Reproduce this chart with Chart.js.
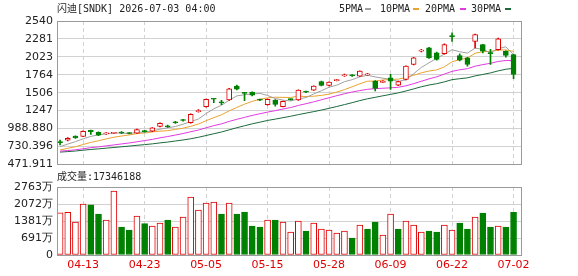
<!DOCTYPE html>
<html>
<head>
<meta charset="utf-8">
<script src="https://cdn.jsdelivr.net/npm/chart.js@4.4.1/dist/chart.umd.min.js"></script>
<style>
  html, body { margin: 0; padding: 0; background: #fff; }
  #wrap { position: relative; width: 578px; height: 276px; overflow: hidden; }
  canvas { position: absolute; left: 0; }
  #kline { top: 0; }
  #vol { top: 168px; }
</style>
</head>
<body>
<div id="wrap">
  <canvas id="kline" width="578" height="175"></canvas>
  <canvas id="vol" width="578" height="108"></canvas>
</div>
<script>
// trading days shown
const dates = ['04-08','04-09','04-10','04-13','04-14','04-15','04-16','04-17','04-20','04-21',
  '04-22','04-23','04-24','04-27','04-28','04-29','04-30','05-01','05-04','05-05',
  '05-06','05-07','05-08','05-11','05-12','05-13','05-14','05-15','05-18','05-19',
  '05-20','05-21','05-22','05-26','05-27','05-28','05-29','06-01','06-02','06-03',
  '06-04','06-05','06-08','06-09','06-10','06-11','06-12','06-15','06-16','06-17',
  '06-18','06-22','06-23','06-24','06-25','06-26','06-29','06-30','07-01','07-02'];

const open = [792,822,879,874,962,936,912,920,930,926,
  922,952,950,1018,1022,1080,1112,1075,1232,1303,
  1418,1368,1400,1600,1508,1515,1405,1334,1400,1305,
  1415,1400,1522,1543,1668,1611,1680,1748,1758,1745,
  1762,1673,1655,1722,1615,1697,1912,2105,2152,2080,
  2070,2325,2040,2009,2247,2200,2085,2128,2103,2056];
const high = [822,858,885,955,966,940,930,935,945,930,
  980,962,1002,1070,1040,1092,1122,1200,1262,1415,
  1420,1395,1570,1615,1512,1520,1415,1415,1408,1385,
  1418,1548,1528,1606,1672,1662,1700,1775,1768,1822,
  1785,1680,1680,1769,1672,1895,2015,2130,2160,2090,
  2210,2368,2065,2015,2350,2205,2130,2292,2110,2062];
const low = [752,812,848,870,903,888,905,914,915,912,
  918,935,945,1012,1005,1062,1095,1068,1225,1298,
  1362,1335,1395,1545,1390,1460,1390,1325,1310,1300,
  1398,1395,1505,1538,1605,1605,1675,1740,1740,1740,
  1755,1530,1650,1553,1608,1690,1905,2095,2000,1975,
  2060,2247,1965,1890,2150,2080,1913,2120,2020,1707];
const close = [785,848,854,950,944,893,922,928,925,918,
  975,944,998,1065,1015,1072,1105,1195,1245,1410,
  1412,1358,1563,1555,1495,1470,1398,1410,1338,1381,
  1405,1543,1512,1601,1611,1658,1690,1760,1750,1816,
  1772,1568,1668,1672,1665,1888,2009,2115,2009,1984,
  2200,2315,1975,1912,2343,2103,2070,2282,2042,1769];

// volume in 万 shares, and whether the day closed above the previous close
const volume = [1718,1737,1340,2070,2042,1665,1421,2600,1137,1015,
  1584,1272,1178,1300,1421,1137,1543,2355,1827,2111,
  2152,1665,2111,1665,1746,1178,1137,1421,1421,1340,
  934,1380,975,1300,1056,1015,893,975,690,1218,
  1056,1340,812,1665,1056,1380,1218,934,975,934,
  1218,1015,1300,1056,1543,1706,1137,1178,1137,1734.6];
const volRise = [1,1,1,1,0,0,1,1,0,0,
  1,0,1,1,0,1,1,1,1,1,
  1,0,1,0,0,0,0,1,0,1,
  1,1,0,1,1,1,1,1,0,1,
  0,0,1,1,0,1,1,1,0,0,
  1,1,0,0,1,0,0,1,0,0];

const ma5Head = [728,765,800,840];
const ma10Head = [680,704,727,759,789,813,839,864,881];
const ma20Head = [663,672,682,697,713,725,739,753,767,781,798,815,833,855,874,895,917,943,967];
const ma30Head = [649,657,665,677,687,696,706,716,726,736,747,757,768,782,794,809,824,842,863,888,
  914,939,970,1001,1029,1057,1081,1106,1125];

const priceTicks = ['471.911','730.396','988.880','1247','1506','1764','2023','2281','2540'];
const priceMin = 471.911, priceMax = 2539.787;
const volTicks = ['0','691万','1381万','2072万','2763万'];
const volMax = 2763;
const dateTicks = ['04-13','04-23','05-05','05-15','05-28','06-09','06-22','07-02'];

const titleText = '闪迪[SNDK] 2026-07-03 04:00';
const volHeader = '成交量:17346188';
const maLabels = ['5PMA','10PMA','20PMA','30PMA'];
const maColors = ['#a0a0a0','#eaa330','#e23ae2','#1b6a3c'];

const RED = '#e00000';
const GREEN = '#008000';
const TICK_FONT = {family: 'DejaVu Sans', size: 11};
const HEAD_FONT = '10px "DejaVu Sans Mono", "Noto Sans CJK SC"';

function movingAvg(n, head) {
  return close.map((c, i) => {
    if (i < n - 1) return head[i];
    let s = 0;
    for (let k = i - n + 1; k <= i; k++) s += close[k];
    return s / n;
  });
}
const pts = arr => arr.map((v, i) => ({x: i, y: v}));
const isUp = close.map((c, i) => c >= open[i]);

function xAxis(showLabels) {
  return {
    type: 'linear', min: -0.4, max: 60.1, offset: false,
    afterBuildTicks: s => { s.ticks = dateTicks.map(d => ({value: dates.indexOf(d)})); },
    afterFit: s => { s.height = showLabels ? 21 : 0; },
    grid: {color: '#d2d2d2', drawTicks: false, offset: false},
    border: {display: false, dash: [4, 3]},
    ticks: {
      display: showLabels, autoSkip: false, maxRotation: 0, padding: 4,
      color: RED, font: TICK_FONT, callback: v => dates[v]
    }
  };
}

function yAxis(min, max, labels) {
  return {
    min: min, max: max,
    afterBuildTicks: s => {
      const step = (max - min) / (labels.length - 1);
      s.ticks = labels.map((l, k) => ({value: min + k * step}));
    },
    afterFit: s => { s.width = 57; },
    grid: {color: '#d2d2d2', drawTicks: false},
    border: {display: false},
    ticks: {padding: 4, color: '#222', font: TICK_FONT, callback: (v, idx) => labels[idx]}
  };
}

const framePlugin = {
  id: 'frame',
  afterDraw(chart) {
    const a = chart.chartArea, ctx = chart.ctx;
    ctx.save();
    ctx.strokeStyle = '#9a9a9a';
    ctx.lineWidth = 1;
    ctx.strokeRect(Math.round(a.left) + 0.5, Math.round(a.top) + 0.5,
      Math.round(a.right - a.left) - 1, Math.round(a.bottom - a.top));
    ctx.restore();
  }
};

const headerPlugin = {
  id: 'header',
  afterDraw(chart) {
    const ctx = chart.ctx;
    ctx.save();
    ctx.font = HEAD_FONT;
    ctx.textBaseline = 'middle';
    ctx.fillStyle = '#222';
    ctx.fillText(titleText, 57, 9);
    // legend: text then a short coloured dash
    const textX = [339, 380, 425, 471];
    const dashX = [365, 413, 460, 505];
    maLabels.forEach((l, k) => {
      ctx.fillStyle = '#222';
      ctx.fillText(l, textX[k], 9);
      ctx.fillStyle = maColors[k];
      ctx.fillRect(dashX[k], 8, 6, 2);
    });
    ctx.restore();
  }
};

const volHeaderPlugin = {
  id: 'volHeader',
  afterDraw(chart) {
    const ctx = chart.ctx;
    ctx.save();
    ctx.font = HEAD_FONT;
    ctx.textBaseline = 'middle';
    ctx.fillStyle = '#222';
    ctx.fillText(volHeader, 57, 9);
    ctx.restore();
  }
};

const common = {
  responsive: false,
  animation: false,
  events: [],
  plugins: {legend: {display: false}, tooltip: {enabled: false}}
};

// K-line chart
const maSets = [
  movingAvg(5, ma5Head), movingAvg(10, ma10Head),
  movingAvg(20, ma20Head), movingAvg(30, ma30Head)
].map((d, k) => ({
  type: 'line', data: pts(d), borderColor: maColors[k], borderWidth: 1,
  pointRadius: 0, tension: 0, order: 3
}));

new Chart(document.getElementById('kline'), {
  type: 'bar',
  data: {
    datasets: [
      ...maSets,
      {
        type: 'bar', data: dates.map((d, i) => ({x: i, y: [low[i], high[i]]})),
        backgroundColor: isUp.map(u => u ? RED : GREEN),
        barThickness: 1, grouped: false, order: 2
      },
      {
        type: 'bar', data: dates.map((d, i) => ({x: i, y: [open[i], close[i]]})),
        backgroundColor: isUp.map(u => u ? '#fff' : GREEN),
        borderColor: isUp.map(u => u ? RED : GREEN),
        borderWidth: 1, borderSkipped: false, minBarLength: 1,
        barThickness: 5, grouped: false, order: 1
      }
    ]
  },
  options: {
    ...common,
    layout: {padding: {top: 21, bottom: 10, left: 0, right: 56}},
    scales: {x: xAxis(false), y: yAxis(priceMin, priceMax, priceTicks)}
  },
  plugins: [framePlugin, headerPlugin]
});

// volume chart
new Chart(document.getElementById('vol'), {
  type: 'bar',
  data: {
    datasets: [{
      data: pts(volume),
      backgroundColor: volRise.map(r => r ? '#fff' : GREEN),
      borderColor: volRise.map(r => r ? RED : GREEN),
      borderWidth: 1, borderSkipped: false,
      barThickness: 6, grouped: false
    }]
  },
  options: {
    ...common,
    layout: {padding: {top: 19, bottom: 0, left: 0, right: 56}},
    scales: {x: xAxis(true), y: yAxis(0, volMax, volTicks)}
  },
  plugins: [framePlugin, volHeaderPlugin]
});
</script>
</body>
</html>
